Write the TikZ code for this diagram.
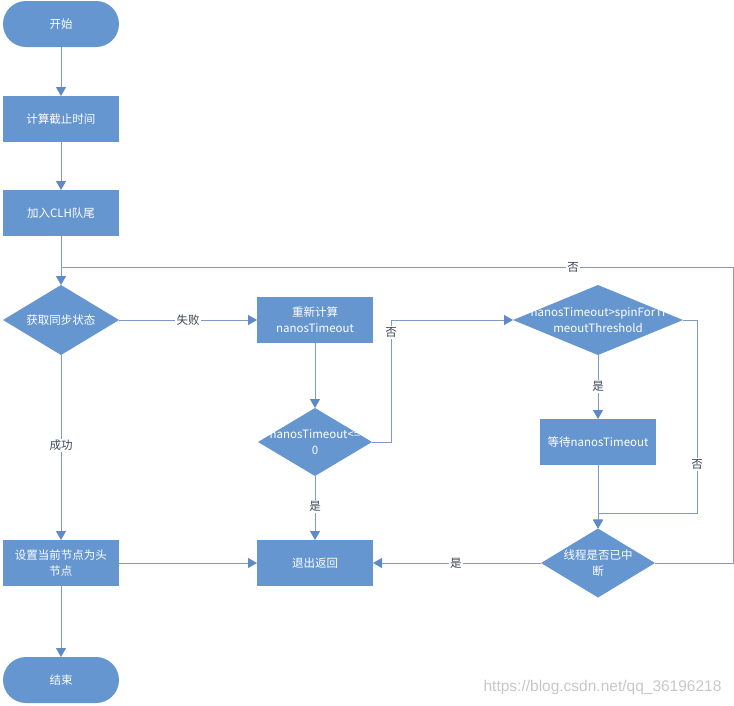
\documentclass[tikz,border=0pt]{standalone}
\usepackage{fontspec}
\setmainfont{Noto Sans CJK SC}
\newfontfamily\wmfont{Liberation Sans}
\usetikzlibrary{shapes.geometric,arrows.meta}
\definecolor{boxfill}{RGB}{101,150,207}
\definecolor{linec}{RGB}{125,155,198}
\definecolor{tipc}{RGB}{95,138,200}
\definecolor{lblc}{RGB}{60,70,85}
\begin{document}
\begin{tikzpicture}[x=1pt,y=-1pt,
  every node/.style={font=\fontsize{11.5}{16}\selectfont},
  procbox/.style={rectangle,fill=boxfill,minimum width=116pt,minimum height=46pt,inner sep=0pt,outer sep=0pt,text=white,align=center},
  pillbox/.style={procbox,rounded corners=23pt},
  diabox/.style={diamond,fill=boxfill,inner sep=0pt,outer sep=0pt},
  diatext/.style={text=white,align=center,inner sep=0pt},
  conn/.style={draw=linec,line width=0.9pt},
  arr/.style={conn,-{Triangle[width=10pt,length=9pt,color=tipc]}},
  lbl/.style={fill=white,text=lblc,inner sep=1.5pt}]
\useasboundingbox (0,0) rectangle (734,705);
\node[pillbox] (start) at (61,24) {开始};
\node[procbox] (calc) at (61,119) {计算截止时间};
\node[procbox] (clh) at (61,213) {加入CLH队尾};
\node[diabox,minimum width=116pt,minimum height=70pt] (d1) at (61,320) {};
\node[diatext] at (d1) {获取同步状态};
\node[procbox] (recalc) at (315,320) {重新计算\\nanosTimeout};
\node[diabox,minimum width=114pt,minimum height=68pt] (d2) at (315,442) {};
\node[diatext] at (315,442) {nanosTimeout<=\\0};
\node[diabox,minimum width=170pt,minimum height=70pt] (d4) at (598,320) {};
\node[diatext] at (598,320) {nanosTimeout>spinForTi\\meoutThreshold};
\node[procbox] (wait) at (598,442) {等待nanosTimeout};
\node[diabox,minimum width=114pt,minimum height=69pt] (d3) at (598,563) {};
\node[diatext] at (598,563) {线程是否已中\\断};
\node[procbox] (exit) at (315,563) {退出返回};
\node[procbox] (set) at (61,563) {设置当前节点为头\\节点};
\node[pillbox] (end) at (61,680) {结束};
\node[text=black!22,font=\wmfont\fontsize{15.5}{18}\selectfont,anchor=east] (wm) at (725,687) {https://blog.csdn.net/qq\_36196218};
\coordinate (join) at (61,267);
\coordinate (loopR) at (733,267);
\coordinate (xr1) at (391,0);
\coordinate (xr2) at (697,0);
\coordinate (mer) at (598,513);
\draw[arr] (start) -- (calc);
\draw[arr] (calc) -- (clh);
\draw[arr] (clh) -- (d1);
\draw[conn] (d3.east) -| (loopR) -- node[lbl,pos=0.238] {否} (join);
\draw[arr] (d1.east) -- node[lbl] {失败} (recalc.west);
\draw[arr] (recalc) -- (d2);
\draw[arr] (d2.east) -- (xr1 |- d2.east) -- node[lbl,pos=0.9] {否} (xr1 |- d4.west) -- (d4.west);
\draw[arr] (d4.south) -- node[lbl,pos=0.49] {是} (wait.north);
\draw[arr] (wait) -- (d3);
\draw[arr] (d4.east) -- (xr2 |- d4.east) -- node[lbl,pos=0.75] {否} (xr2 |- mer) -- (mer) -- (d3.north);
\draw[arr] (d3.west) -- node[lbl,pos=0.506] {是} (exit.east);
\draw[arr] (d2.south) -- node[lbl,pos=0.48] {是} (exit.north);
\draw[arr] (d1.south) -- node[lbl,pos=0.49] {成功} (set.north);
\draw[arr] (set.east) -- (exit.west);
\draw[arr] (set) -- (end);
\end{tikzpicture}
\end{document}
